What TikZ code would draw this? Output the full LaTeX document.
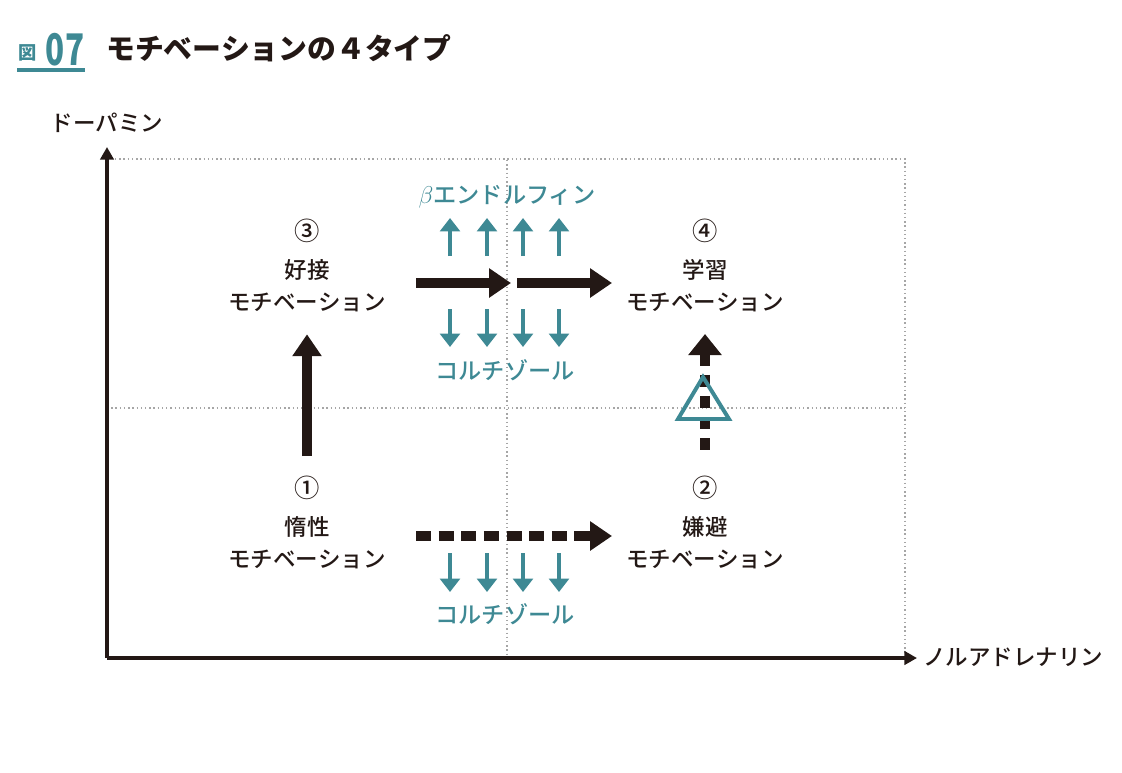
\documentclass[tikz,border=0pt]{standalone}
\usepackage{fontspec}
\setmainfont{Noto Sans CJK JP}
\newfontfamily\mediumFont{Noto Sans CJK JP Medium}
\usetikzlibrary{arrows.meta}
\definecolor{tealBlue}{RGB}{62,137,148}
\definecolor{inkBlack}{RGB}{35,24,21}
\newcommand{\gridLines}{%%
  %% The dotted frame and the two middle lines.
  \draw[gridStyle] (yend) ++(8,12) -| (905,658);
  \draw[gridStyle] (107,408) -- (905,408);
  \draw[gridStyle] (507,160) -- (507,658);
}
\newcommand{\quadrantLabel}[5]{%%
  \node[textStyle,font=\mediumFont\fontsize{18}{18}\selectfont] (num#1) at (#2,#3) {#4};
  \node[textStyle] (kanji#1) at (#2,#3+39) {#5};
  \node[textStyle] (mot#1) at (#2,#3+71) {モチベーション};
}
\newcommand{\hormoneArrows}[2]{%%
  \foreach \xx in {450,487,523,559}
    \draw[hormoneStyle] (\xx,#1) -- (\xx,#2);
}

\begin{document}
\begin{tikzpicture}[x=0.025cm,y=-0.025cm,%%
  axisStyle/.style={inkBlack,line width=2.8pt,-{Triangle[length=9pt,width=9.5pt]}},%%
  gridStyle/.style={gray!70,line width=1pt,dash pattern=on 1pt off 2pt},%%
  textStyle/.style={inkBlack,font=\mediumFont\fontsize{16}{18}\selectfont,inner sep=0pt},%%
  hormoneText/.style={tealBlue,font=\mediumFont\fontsize{16.5}{18}\selectfont,inner sep=0pt},%%
  hormoneStyle/.style={tealBlue,line width=3.4pt,-{Triangle[length=9.5pt,width=14pt]}},%%
  blockArrow/.style={inkBlack,line width=6.6pt,-{Triangle[length=15.6pt,width=20pt]}},%%
  dashArrowH/.style={blockArrow,dash pattern=on 10.7pt off 5.4pt},%%
  dashArrowV/.style={inkBlack,line width=6.6pt,dash pattern=on 8.4pt off 6.6pt,{Triangle[length=15pt,width=23pt]}-}%%
]
\useasboundingbox (0,0) rectangle (1122,772);
%%
%% Title.
\node[tealBlue,font=\bfseries\fontsize{13}{13}\selectfont,inner sep=0pt] (figMark) at (28,53) {図};
\node[tealBlue,font=\bfseries\fontsize{31}{31}\selectfont,inner sep=0pt,xscale=0.72] (figNum) at (65,50) {07};
\draw[tealBlue,line width=2.2pt] (17,70) -- (85,70);
\node[inkBlack,font=\bfseries\fontsize{20.5}{21}\selectfont,inner sep=0pt,anchor=west] (title) at (106,48) {モチベーションの４タイプ};
%%
%% The axes.
\coordinate (origin) at (107,658);
\coordinate (xend) at (917,658);
\coordinate (yend) at (107,147);
\gridLines
\draw[axisStyle] (origin) -- (xend);
\draw[axisStyle] (origin) -- (yend);
\node[textStyle] (ylabel) at (107,123) {ドーパミン};
\node[textStyle,anchor=west] (xlabel) at (923,657) {ノルアドレナリン};
%%
%% The four motivations.
\quadrantLabel{3}{307}{231}{③}{好接}
\quadrantLabel{4}{705}{231}{④}{学習}
\quadrantLabel{1}{307}{488}{①}{惰性}
\quadrantLabel{2}{705}{488}{②}{嫌避}
%%
%% Arrows between them.
\coordinate (midTop) at (511,283);
\coordinate (midTopB) at (517,283);
\coordinate (tipLearn) at (705,334);
\coordinate (startAvoid) at (705,454);
\draw[blockArrow] ([yshift=14pt]num1.north) -- ([yshift=-16pt]mot3.south);
\draw[blockArrow] (416,283) -- (midTop);
\draw[blockArrow] (midTopB) -- (612,283);
\draw[dashArrowH] (416,536) -- (612,536);
\draw[dashArrowV] (tipLearn) -- (startAvoid);
\draw[tealBlue,line width=2.8pt,line join=miter] (703,377) -- (729,419) -- (678,419) -- cycle;
%%
%% Hormones.
\hormoneArrows{256}{218}
\hormoneArrows{309}{347}
\hormoneArrows{553}{592}
\node[hormoneText] (beta) at (507,197) {$\beta$エンドルフィン};
\node[hormoneText] (cortTop) at (505,370) {コルチゾール};
\node[hormoneText] (cortBottom) at (505,614) {コルチゾール};
\end{tikzpicture}
\end{document}
